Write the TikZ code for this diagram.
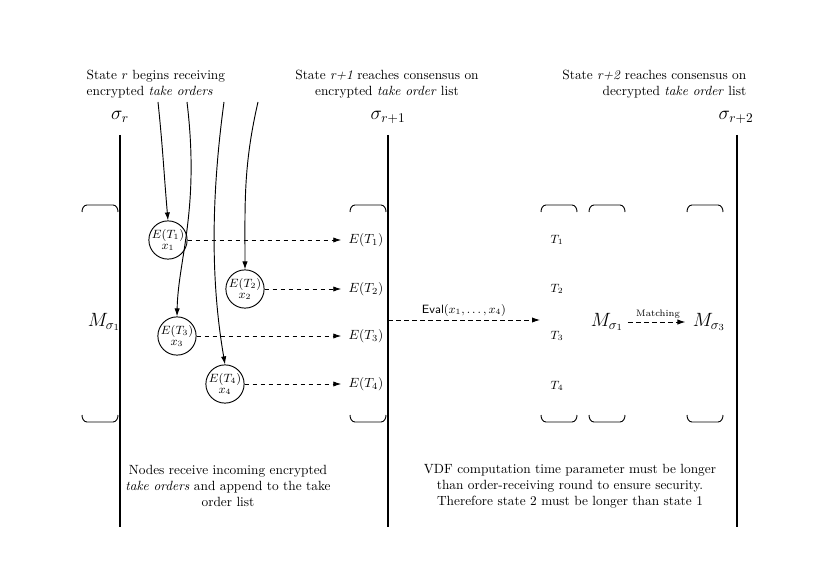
\documentclass[tikz,border=0pt]{standalone}
\usetikzlibrary{arrows.meta,positioning,calc}
\tikzset{
  stateline/.style={line width=1.5pt},
  order/.style={circle,draw,line width=.7pt,inner sep=0pt,minimum size=28.5pt,align=center,font=\small},
  feed/.style={-{Latex[length=6pt,width=4pt]},line width=.7pt},
  pass/.style={-{Latex[length=6pt,width=4pt]},line width=.7pt,dash pattern=on 3.5pt off 2.5pt,shorten >=2pt},
  caption/.style={align=center,font=\normalsize}
}
% bracket caps of a list, top and bottom
\newcommand{\listcaps}[2]{%
  \draw[line width=.7pt] (#1,212) to[out=90,in=180] (#1+5,205) -- (#2-5,205) to[out=0,in=90] (#2,212);
  \draw[line width=.7pt] (#1,415) to[out=-90,in=180] (#1+5,422) -- (#2-5,422) to[out=0,in=-90] (#2,415);
}
\begin{document}
\begin{tikzpicture}[x=.75pt,y=-.75pt]
\useasboundingbox (0,0) rectangle (824,577);
% headings
\node[anchor=west,align=left] (h0) at (82,84) {State $r$ begins receiving\\encrypted \emph{take orders}};
\node[caption] (h1) at (387,84) {State \emph{r+1} reaches consensus on\\encrypted \emph{take order} list};
\node[anchor=east,align=right] (h2) at (751,84) {State \emph{r+2} reaches consensus on\\decrypted \emph{take order} list};
% states
\node[font=\Large] (s0) at (120,117) {$\sigma_r$};
\node[font=\Large] (s1) at (388,117) {$\sigma_{r+1}$};
\node[font=\Large] (s2) at (736,117) {$\sigma_{r+2}$};
\draw[stateline] (120,135)--(120,527);
\draw[stateline] (388,135)--(388,527);
\draw[stateline] (737,135)--(737,527);
% lists
\listcaps{82}{118}
\listcaps{350}{386}
\listcaps{541}{577}
\listcaps{589}{625}
\listcaps{687}{723}
\node[font=\Large] (ml) at (104,322) {$M_{\sigma_1}$};
% incoming orders
\node[order] (c1) at (168,240) {$E(T_1)$\\[-3pt]$x_1$};
\node[order] (c2) at (245,289) {$E(T_2)$\\[-3pt]$x_2$};
\node[order] (c3) at (177,336) {$E(T_3)$\\[-3pt]$x_3$};
\node[order] (c4) at (225,384) {$E(T_4)$\\[-3pt]$x_4$};
\coordinate (i1) at (158,102);
\coordinate (i2) at (187,102);
\coordinate (i3) at (224,102);
\coordinate (i4) at (258,102);
\draw[feed] (i1) to[out=-84,in=95] (c1.north);
\draw[feed] (i2) .. controls (200,210) and (178,260) .. (c3.north);
\draw[feed] (i3) .. controls (208,220) and (214,300) .. (c4.north);
\draw[feed] (i4) to[out=-103,in=90] (c2.north);
% encrypted list
\foreach \i/\y in {1/240,2/289,3/336,4/384}{
  \node (e\i) at (366,\y) {$E(T_\i)$};
  \draw[pass] (c\i.east) -- (e\i.west);
}
% decrypted list
\foreach \i/\y in {1/240,2/289,3/336,4/386}{
  \node[font=\small] (t\i) at (557,\y) {$T_\i$};
}
\coordinate (ev0) at (388,320);
\coordinate (ev1) at (540,320);
\draw[pass,shorten >=0pt] (ev0) -- (ev1) node[midway,above=-1pt,font=\small]{\textsf{Eval}$(x_1,\ldots,x_4)$};
\node[font=\Large] (m1) at (607,322) {$M_{\sigma_1}$};
\node[font=\Large] (m3) at (709,322) {$M_{\sigma_3}$};
\draw[pass] (m1.east) -- (m3.west) node[midway,above=-1pt,font=\scriptsize]{Matching};
% notes
\node[caption] (n0) at (228,486) {Nodes receive incoming encrypted\\\emph{take orders} and append to the take\\order list};
\node[caption] (n1) at (570,486) {VDF computation time parameter must be longer\\than order-receiving round to ensure security.\\Therefore state 2 must be longer than state 1};
\end{tikzpicture}
\end{document}
